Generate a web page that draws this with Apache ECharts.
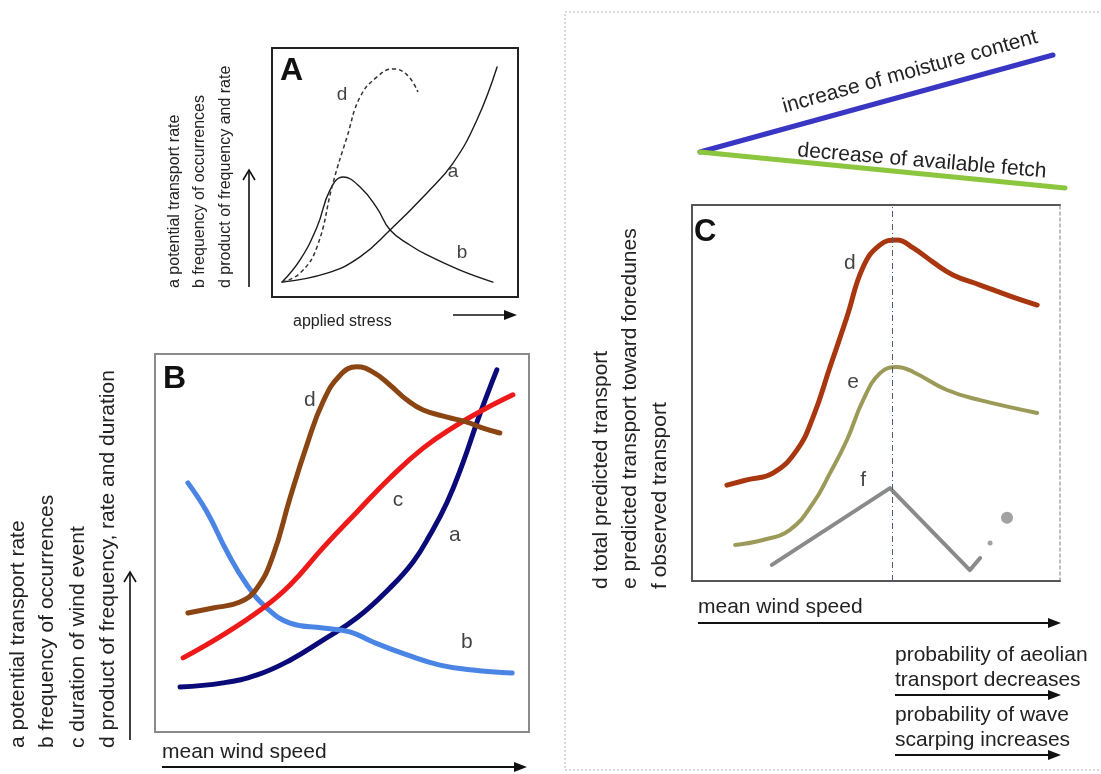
<!DOCTYPE html>
<html><head><meta charset="utf-8">
<script src="https://cdn.jsdelivr.net/npm/echarts@6/dist/echarts.min.js"></script>
<style>html,body{margin:0;padding:0;background:#fff}#c{width:1101px;height:774px}</style>
</head><body><div id="c"></div>
<script>
// ---------- Panel A: applied stress (relative 0-100 units) ----------
const A_a_rate = [[4.1,6],[22.4,9.6],[35.8,16.1],[48,26.9],[63,41.8],[73.6,53.8],[83.3,71.1],[91.5,92.4]];
const A_b_freq = [[4.1,6],[11.4,14.9],[18.3,28.1],[23.6,43],[28.9,48.2],[35.8,44.2],[42.7,35.7],[48,26.9],[56,20.9],[63,16.9],[76.4,10.8],[89.8,6]];
const A_d_prod = [[4.1,6],[11.4,9.6],[18.3,20.1],[24.8,45.8],[30.5,64.3],[35.8,80.3],[42.7,88.4],[49.2,91.6],[54.9,89.2],[59.3,82.3]];
const A_labels = [['d',28.5,81.1],['a',73.6,50.2],['b',77.2,17.7]];
const A_axisText = ['a potential transport rate','b frequency of occurrences','d product of frequency and rate'];

// ---------- Panel B: mean wind speed ----------
const B_a_rate = [[6.7,11.9],[18.2,13],[27.3,15.1],[36.1,19],[44.9,24.3],[54,30.2],[62.8,38.1],[69,45],[73.5,52.1],[78.1,60.8],[82.4,71.4],[86.1,82],[88.8,89.2],[91.4,95.8]];
const B_b_freq = [[8.8,65.9],[13.9,58.2],[19.3,47.6],[24.6,38.9],[29.9,32.8],[36.1,28.8],[44.9,27.5],[52.1,26.5],[58.3,23.8],[67.4,20.4],[76.2,17.7],[85,16.4],[95.5,15.6]];
const B_c_dur = [[7.5,19.6],[18.2,25.7],[28.9,32.8],[36.1,38.9],[44.9,48.7],[54,58.2],[62.8,67.2],[71.7,75.1],[80.7,81.2],[87.7,85.2],[95.7,89.2]];
const B_d_prod = [[8.8,31.5],[15.5,32.8],[22.7,34.4],[27.3,38.1],[31.6,46.8],[36.1,61.9],[40.6,75.9],[44.9,87.3],[49.5,94.4],[54,96.6],[58.3,95.2],[62.8,91.8],[67.4,87.8],[71.7,85.2],[78.1,83.3],[83.4,82],[87.7,80.4],[92.2,79.1]];
const B_labels = [['d',41.4,87.8],['c',65,61.4],['a',80.2,52.1],['b',83.4,23.8]];
const B_axisText = ['a potential transport rate','b frequency of occurrences','c duration of wind event','d product of frequency, rate and duration'];

// ---------- Panel C: transport toward foredunes ----------
const C_d_total = [[9.5,25.5],[14.9,26.9],[22,28.7],[28.5,34.8],[32.9,43.6],[37.5,56.9],[42.1,70.2],[46.5,83.5],[51.1,89.4],[55.7,90.7],[60.1,88.6],[65.5,84.8],[70.9,81.4],[78.3,78.7],[87.2,75.5],[93.8,73.4]];
const C_e_pred = [[11.7,9.6],[19.3,10.9],[26.6,13.6],[32.9,20.7],[37.5,28.7],[42.1,37.5],[46.5,48.1],[51.1,55.3],[55.7,56.9],[60.1,55.6],[69.3,50.8],[78.3,48.1],[93.8,44.7]];
const C_f_obs = [[21.7,4.3],[53.8,24.7],[75.5,2.9],[78.3,6.1]];
const C_f_dots = [[81,10.1,5],[85.6,16.8,12]];
const C_peakX = 54.3;
const C_labels = [['d',42.9,84.6],['e',43.8,52.9],['f',46.5,26.9]];
const C_axisText = ['d total predicted transport','e predicted transport toward foredunes','f observed transport'];

const FONT = '"Liberation Sans", Arial, Helvetica, sans-serif';
const TXT = '#222';

function hiddenAxis(gi, extra) {
  return Object.assign({type:'value', gridIndex:gi, min:0, max:100,
    axisLine:{show:false}, axisTick:{show:false}, axisLabel:{show:false}, splitLine:{show:false}}, extra||{});
}
function curve(name, data, xi, color, width, opts) {
  return Object.assign({name, type:'line', xAxisIndex:xi, yAxisIndex:xi, data, smooth:0.45,
    symbol:'none', lineStyle:{color, width, cap:'round', join:'round'}, silent:true, z:3}, opts||{});
}
function labels(data, xi, size) {
  return {type:'scatter', xAxisIndex:xi, yAxisIndex:xi, symbolSize:0, silent:true, z:5,
    data: data.map(d => ({value:[d[1],d[2]], name:d[0]})),
    label:{show:true, position:'inside', formatter:p=>p.name, color:'#111', fontSize:size, fontFamily:FONT}};
}
function vText(list, xs, bottom, size) {
  return list.map((t,i)=>({type:'text', x:xs[i], y:bottom, rotation:Math.PI/2,
    style:{text:t, font:size+'px '+FONT, fill:TXT, align:'left', verticalAlign:'middle', textAlign:'left', textVerticalAlign:'middle'}}));
}
function hText(t, x, y, size, extra) {
  return Object.assign({type:'text', x, y, style:{text:t, font:size+'px '+FONT, fill:TXT, align:'left', verticalAlign:'middle', textAlign:'left', textVerticalAlign:'middle'}}, extra||{});
}
function arrowRight(x1, x2, y, w) {
  return [
    {type:'line', shape:{x1, y1:y, x2:x2-10, y2:y}, style:{stroke:'#111', lineWidth:w||2}},
    {type:'polygon', shape:{points:[[x2-13,y-5],[x2,y],[x2-13,y+5]]}, style:{fill:'#111'}}
  ];
}
function arrowUp(x, y1, y2) {
  return [
    {type:'line', shape:{x1:x, y1, x2:x, y2}, style:{stroke:'#111', lineWidth:1.6}},
    {type:'polyline', shape:{points:[[x-6,y2+10],[x,y2],[x+6,y2+10]]}, style:{stroke:'#111', lineWidth:1.6, fill:'none'}}
  ];
}

const graphic = [].concat(
  [{type:'rect', shape:{x:565,y:12,width:560,height:758}, style:{fill:'none', stroke:'#b5b5b5', lineWidth:1, lineDash:[2,2]}, z:-1}],
  // Panel letters
  [hText('A', 280, 71, 32, {style:{text:'A', font:'bold 32px '+FONT, fill:'#111', verticalAlign:'middle', textVerticalAlign:'middle'}})],
  [hText('B', 163, 379, 32, {style:{text:'B', font:'bold 32px '+FONT, fill:'#111', verticalAlign:'middle', textVerticalAlign:'middle'}})],
  [hText('C', 694, 232, 31, {style:{text:'C', font:'bold 31px '+FONT, fill:'#111', verticalAlign:'middle', textVerticalAlign:'middle'}})],
  // Panel A
  vText(A_axisText, [175,200,226], 288, 16),
  arrowUp(249, 287, 170),
  [hText('applied stress', 293, 322, 16)],
  arrowRight(453, 517, 315, 1.6),
  // Panel B
  vText(B_axisText, [18,47,78,108], 748, 21),
  arrowUp(130, 740, 572),
  [hText('mean wind speed', 162, 752, 21)],
  arrowRight(162, 527, 767, 2),
  // Panel C
  vText(C_axisText, [601,630,660], 589, 21),
  [hText('mean wind speed', 698, 607, 21)],
  arrowRight(698, 1061, 623, 2),
  [hText('probability of aeolian', 895, 655, 21), hText('transport decreases', 895, 680, 21)],
  arrowRight(895, 1061, 695, 2),
  [hText('probability of wave', 895, 715, 21), hText('scarping increases', 895, 740, 21)],
  arrowRight(895, 1061, 755, 2),
  // moisture / fetch wedge
  [{type:'line', shape:{x1:700,y1:152,x2:1053,y2:55}, style:{stroke:'#3a36c4', lineWidth:5, lineCap:'round'}},
   {type:'line', shape:{x1:700,y1:152,x2:1065,y2:188}, style:{stroke:'#8cc63e', lineWidth:5, lineCap:'round'}},
   {type:'text', x:910, y:72, rotation:0.27, style:{text:'increase of moisture content', font:'21px '+FONT, fill:TXT, align:'center', verticalAlign:'middle', textAlign:'center', textVerticalAlign:'middle'}},
   {type:'text', x:922, y:161, rotation:-0.085, style:{text:'decrease of available fetch', font:'21px '+FONT, fill:TXT, align:'center', verticalAlign:'middle', textAlign:'center', textVerticalAlign:'middle'}}]
);

const option = {
  animation:false,
  backgroundColor:'#fff',
  grid:[
    {left:272, top:48, width:246, height:249, show:true, borderColor:'#222', borderWidth:2, backgroundColor:'transparent'},
    {left:155, top:354, width:374, height:378, show:true, borderColor:'#8a8a8a', borderWidth:2, backgroundColor:'transparent'},
    {left:692, top:205, width:368, height:376, show:false}
  ],
  xAxis:[
    hiddenAxis(0), hiddenAxis(1),
    hiddenAxis(2, {position:'bottom', axisLine:{show:true, onZero:false, lineStyle:{color:'#555', width:2}}}),
    hiddenAxis(2, {position:'top', axisLine:{show:true, onZero:false, lineStyle:{color:'#555', width:2}}})
  ],
  yAxis:[
    hiddenAxis(0), hiddenAxis(1),
    hiddenAxis(2, {position:'left', axisLine:{show:true, onZero:false, lineStyle:{color:'#555', width:2}}}),
    hiddenAxis(2, {position:'right', axisLine:{show:true, onZero:false, lineStyle:{color:'#aaa', width:1.5, type:[3,3]}}})
  ],
  series:[
    curve('A a', A_a_rate, 0, '#1a1a1a', 1.4),
    curve('A b', A_b_freq, 0, '#1a1a1a', 1.4),
    curve('A d', A_d_prod, 0, '#333', 1.5, {lineStyle:{color:'#333', width:1.5, type:[4,3]}}),
    labels(A_labels, 0, 19),
    curve('B a', B_a_rate, 1, '#0a0a78', 5),
    curve('B b', B_b_freq, 1, '#4a84e4', 5),
    curve('B c', B_c_dur, 1, '#ee1a1a', 5),
    curve('B d', B_d_prod, 1, '#8b4513', 5),
    labels(B_labels, 1, 21),
    curve('C d', C_d_total, 2, '#a8360f', 5, {markLine:{silent:true, symbol:'none', label:{show:false},
      lineStyle:{color:'#4a5a7a', width:1, type:[6,3,1,3]}, data:[{xAxis:C_peakX}]}}),
    curve('C e', C_e_pred, 2, '#9c9a58', 4),
    curve('C f', C_f_obs, 2, '#8a8a8a', 4, {smooth:false}),
    {type:'scatter', xAxisIndex:2, yAxisIndex:2, silent:true, data:C_f_dots.map(d=>[d[0],d[1]]),
      symbolSize:(v,p)=>C_f_dots[p.dataIndex][2], itemStyle:{color:'#8a8a8a'}},
    labels(C_labels, 2, 21)
  ],
  graphic
};
const chart = echarts.init(document.getElementById('c'), null, {renderer:'canvas'});
chart.setOption(option);
</script>
</body></html>
